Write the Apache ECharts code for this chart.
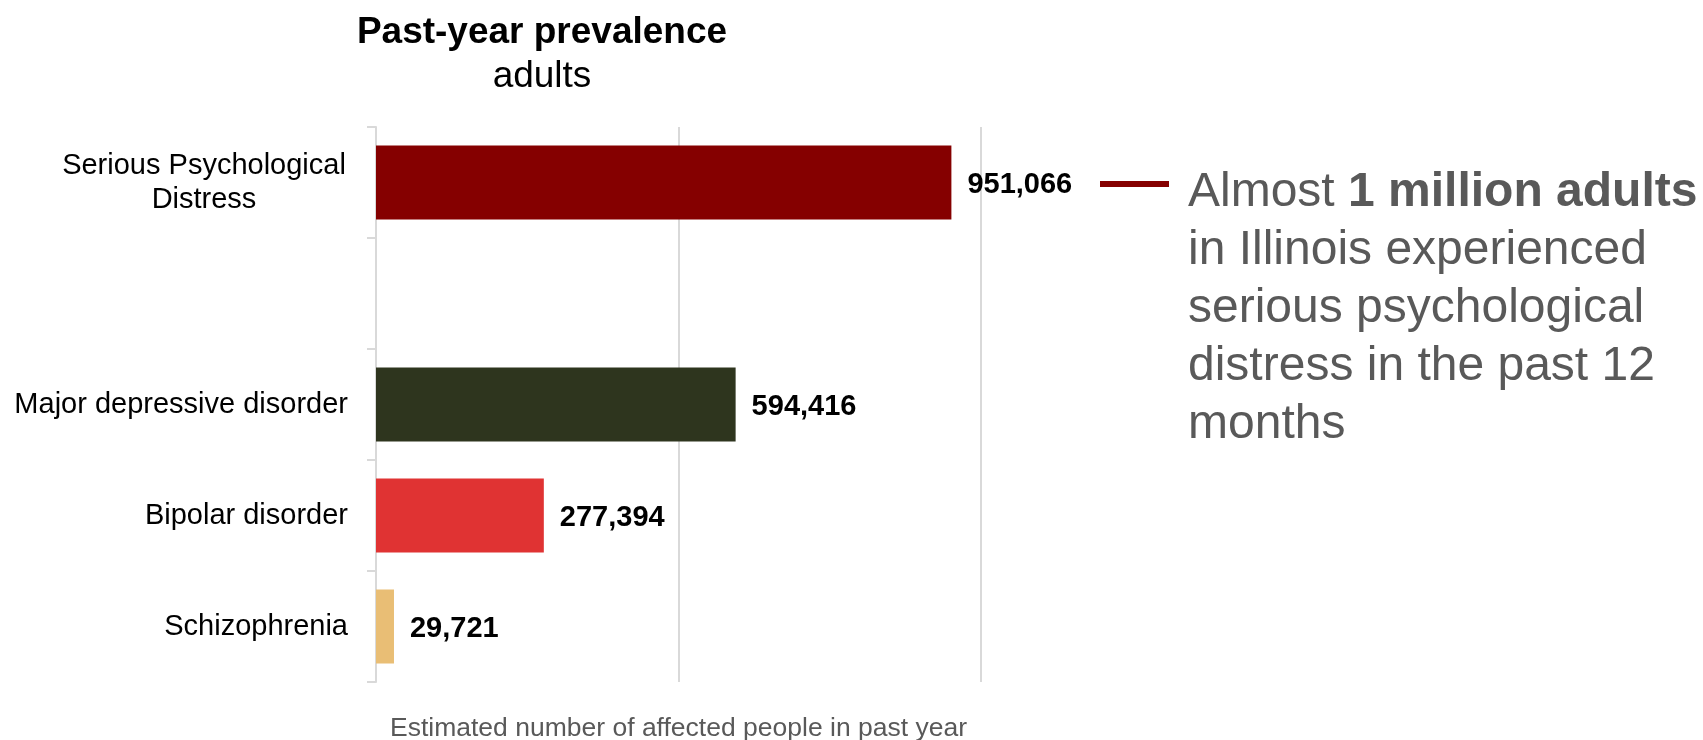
<!DOCTYPE html>
<html>
<head>
<meta charset="utf-8">
<script src="https://cdn.jsdelivr.net/npm/echarts@6/dist/echarts.min.js"></script>
<style>
  html, body { margin: 0; padding: 0; background: #ffffff; }
  #chart { width: 1703px; height: 740px; }
</style>
</head>
<body>
<div id="chart"></div>
<script>
// Past-year prevalence of mental health conditions among adults
const categories = [
  'Serious Psychological\nDistress',
  '',
  'Major depressive disorder',
  'Bipolar disorder',
  'Schizophrenia'
];
const affectedAdults = [951066, null, 594416, 277394, 29721];
const barColors = ['#850000', '#ffffff', '#2e351e', '#e03333', '#e9be75'];
const valueTicks = [0, 500000, 1000000];

const titleText = 'Past-year prevalence';
const subtitleText = 'adults';
const axisTitle = 'Estimated number of affected people in past year';
const calloutLines = [
  'Almost {b|1 million adults}',
  'in Illinois experienced',
  'serious psychological',
  'distress in the past 12',
  'months'
];

const FONT = '"Liberation Sans", Arial, Helvetica, sans-serif';
const GRID_GRAY = '#d9d9d9';
const TEXT_GRAY = '#595959';

const chart = echarts.init(document.getElementById('chart'), null, { renderer: 'canvas' });

chart.setOption({
  backgroundColor: '#ffffff',
  animation: false,
  textStyle: { fontFamily: FONT },
  title: [
    {
      text: titleText,
      left: 542,
      top: 14,
      padding: 0,
      textAlign: 'center',
      textStyle: { fontFamily: FONT, fontSize: 37, fontWeight: 'bold', color: '#000000' }
    },
    {
      text: subtitleText,
      left: 542,
      top: 58,
      padding: 0,
      textAlign: 'center',
      textStyle: { fontFamily: FONT, fontSize: 37, fontWeight: 'normal', color: '#000000' }
    }
  ],
  grid: {
    left: 376, top: 127, width: 605, height: 555,
    containLabel: false,
    outerBoundsMode: 'none'
  },
  xAxis: {
    type: 'value',
    min: valueTicks[0],
    max: valueTicks[valueTicks.length - 1],
    interval: valueTicks[1] - valueTicks[0],
    axisLine: { show: false },
    axisTick: { show: false },
    axisLabel: { show: false },
    splitLine: { show: true, lineStyle: { color: GRID_GRAY, width: 2 } },
    name: axisTitle,
    nameLocation: 'middle',
    nameGap: 33,
    nameTextStyle: { fontFamily: FONT, fontSize: 26.5, color: TEXT_GRAY }
  },
  yAxis: {
    type: 'category',
    inverse: true,
    data: categories,
    axisLine: { show: true, lineStyle: { color: GRID_GRAY, width: 2 } },
    axisTick: { show: true, length: 9, lineStyle: { color: GRID_GRAY, width: 2 } },
    axisLabel: {
      margin: 28,
      fontFamily: FONT,
      fontSize: 29,
      color: '#000000',
      lineHeight: 34,
      formatter: function (v) {
        if (v.indexOf('\n') >= 0) {
          return v.split('\n').map(function (s) { return '{c|' + s + '}'; }).join('\n');
        }
        return v;
      },
      rich: {
        c: { width: 288, align: 'center', fontSize: 29, lineHeight: 34, color: '#000000', fontFamily: FONT }
      }
    },
    splitLine: { show: false }
  },
  series: [
    {
      type: 'bar',
      barWidth: 74,
      data: affectedAdults.map(function (v, i) {
        return { value: v, itemStyle: { color: barColors[i] } };
      }),
      label: {
        show: true,
        position: 'right',
        distance: 16,
        offset: [0, 2],
        fontFamily: FONT,
        fontSize: 29,
        fontWeight: 'bold',
        color: '#000000',
        formatter: function (p) {
          return p.value == null ? '' : Number(p.value).toLocaleString('en-US');
        }
      }
    }
  ],
  graphic: [
    {
      type: 'line',
      shape: { x1: 1100, y1: 184, x2: 1169, y2: 184 },
      style: { stroke: '#850000', lineWidth: 6 }
    },
    {
      type: 'text',
      left: 1188,
      top: 164,
      style: {
        text: calloutLines.join('\n'),
        fontFamily: FONT,
        fontSize: 48,
        lineHeight: 58,
        fill: TEXT_GRAY,
        rich: {
          b: { fontFamily: FONT, fontSize: 48, fontWeight: 'bold', lineHeight: 58, fill: TEXT_GRAY }
        }
      }
    }
  ]
});
</script>
</body>
</html>
